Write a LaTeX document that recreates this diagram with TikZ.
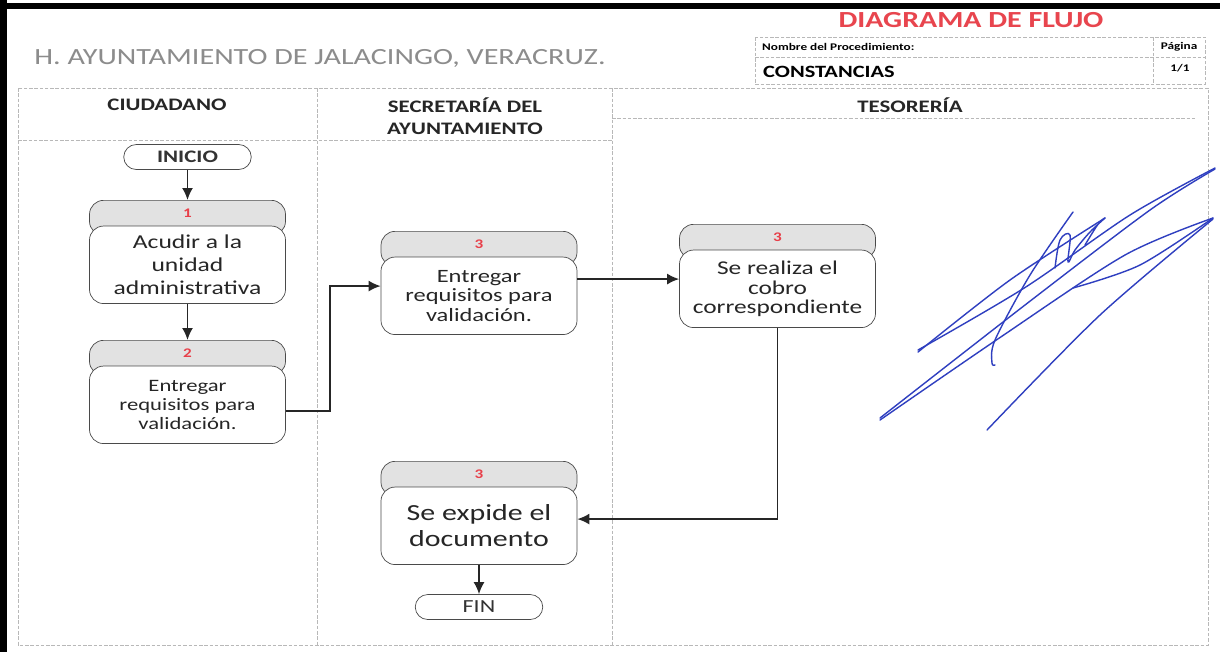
\documentclass[tikz,border=0pt]{standalone}
\usepackage{fontspec}
\setmainfont{Carlito}[FakeStretch=1.3]
\usepackage{tikz}
\usetikzlibrary{positioning, arrows.meta}

\definecolor{boxline}{HTML}{4A4A4A}
\definecolor{laneline}{HTML}{B8B8B8}
\definecolor{titlegray}{HTML}{8C8C8C}
\definecolor{flujored}{HTML}{E8454E}
\definecolor{numred}{HTML}{E8404A}
\definecolor{headfill}{HTML}{E2E2E2}
\definecolor{firma}{HTML}{2F3FC0}

\begin{document}
\begin{tikzpicture}[
      font=\fontsize{10}{12}\selectfont,
      stephead/.style={draw=boxline, fill=headfill, rounded corners=8pt, minimum width=3.92cm, minimum height=0.7cm, anchor=north, text height=0.2cm, text depth=0.2cm, inner sep=1pt, text=numred, font=\fontsize{7.5}{9}\selectfont\bfseries},
      stepbox/.style={draw=boxline, fill=white, rounded corners=8pt, minimum width=3.92cm, minimum height=1.55cm, align=center, inner sep=2pt, text=black!85},
      term/.style={draw=boxline, rounded corners=0.25cm, minimum width=2.55cm, minimum height=0.5cm, inner sep=1pt, text=black!80},
      lane/.style={draw=laneline, line width=0.5pt, dash pattern=on 2pt off 1pt},
      lanehead/.style={align=center, text=black!85, font=\fontsize{10}{12}\selectfont\bfseries},
      arr/.style={-{Latex[length=2.4mm, width=2.2mm]}, line width=1pt, black!85},
      firmatrazo/.style={firma, line width=0.8pt, line cap=round, line join=round}
    ]
    \useasboundingbox (0,0) rectangle (24.4,-13.04);
    \fill[white] (0,0) rectangle (24.4,-13.04);
    %% scan border
    \fill[black] (0,-0.05) rectangle (24.4,-0.18);
    \fill[black] (0,0) rectangle (0.14,-13.04);
    %% title block
    \node[text=titlegray, font=\fontsize{13.2}{15}\selectfont] (ayto) at (6.4,-1.16) {H. AYUNTAMIENTO DE JALACINGO, VERACRUZ.};
    \node[text=flujored, font=\fontsize{13.1}{15}\selectfont\bfseries] (diag) at (19.42,-0.4) {DIAGRAMA DE FLUJO};
    \draw[lane] (15.1,-0.74) rectangle (24.1,-1.68);
    \draw[lane] (15.1,-1.14) -- (24.1,-1.14);
    \draw[lane] (23.06,-0.74) -- (23.06,-1.68);
    \node[anchor=west, font=\fontsize{5.8}{7}\selectfont\bfseries] (nomproc) at (15.12,-0.93) {Nombre del Procedimiento:};
    \node[font=\fontsize{5.8}{7}\selectfont\bfseries] (pag) at (23.58,-0.93) {Página};
    \node[anchor=west, font=\fontsize{9.8}{12}\selectfont\bfseries] (proc) at (15.14,-1.43) {CONSTANCIAS};
    \node[font=\fontsize{5.8}{7}\selectfont\bfseries] (numpag) at (23.6,-1.36) {1/1};
    %% lanes
    \draw[lane] (0.36,-1.76) rectangle (24.16,-12.9);
    \draw[lane] (6.34,-1.76) -- (6.34,-12.9);
    \draw[lane] (12.24,-1.76) -- (12.24,-12.9);
    \draw[lane] (0.36,-2.8) -- (12.24,-2.8);
    \draw[lane] (12.24,-2.36) -- (23.94,-2.36);
    \node[lanehead] (ciud) at (3.34,-2.1) {CIUDADANO};
    \node[lanehead, font=\fontsize{10}{12.2}\selectfont\bfseries] (secr) at (9.3,-2.32) {SECRETARÍA DEL\\AYUNTAMIENTO};
    \node[lanehead] (teso) at (18.2,-2.1) {TESORERÍA};
    %% ciudadano
    \node[term, font=\fontsize{10}{12}\selectfont\bfseries] (inicio) at (3.75,-3.14) {INICIO};
    \node[stephead] (p1h) at (3.75,-4.0) {1};
    \node[stepbox, below=-0.2cm of p1h, font=\fontsize{11.2}{13}\selectfont] (p1) {Acudir a la\\unidad\\administrativa};
    \node[stephead] (p2h) at (3.75,-6.8) {2};
    \node[stepbox, below=-0.2cm of p2h, font=\fontsize{9.9}{10.9}\selectfont] (p2) {Entregar\\requisitos para\\validación.};
    %% secretaria
    \node[stephead] (p3ah) at (9.58,-4.62) {3};
    \node[stepbox, below=-0.2cm of p3ah, font=\fontsize{10.7}{11}\selectfont] (p3a) {Entregar\\requisitos para\\validación.};
    \node[stephead] (p3ch) at (9.58,-9.22) {3};
    \node[stepbox, below=-0.2cm of p3ch, font=\fontsize{13.1}{14.7}\selectfont] (p3c) {Se expide el\\documento};
    \node[term, font=\fontsize{10.5}{12}\selectfont] (fin) at (9.58,-12.14) {FIN};
    %% tesoreria
    \node[stephead] (p3bh) at (15.55,-4.48) {3};
    \node[stepbox, below=-0.2cm of p3bh, font=\fontsize{11.1}{11.3}\selectfont] (p3b) {Se realiza el\\cobro\\correspondiente};
    %% flow
    \draw[arr] (inicio) -- (p1h);
    \draw[arr] (p1) -- (p2h);
    \draw[arr] ([yshift=-0.125cm]p2.east) -- ++(0.89,0) |- ([yshift=0.195cm]p3a.west);
    \draw[arr] ([yshift=0.335cm]p3a.east) -- ([yshift=0.195cm]p3b.west);
    \draw[arr] (p3b.south) |- ([yshift=0.135cm]p3c.east);
    \draw[arr] (p3c) -- (fin);
    %% firma
    \draw[firmatrazo] plot[smooth] coordinates {(17.6,-8.36) (20.5,-6.1) (23.0,-4.2) (24.3,-3.38)};
    \draw[firmatrazo] plot[smooth] coordinates {(18.36,-7.0) (20.5,-5.75) (22.6,-4.3) (24.3,-3.36)};
    \draw[firmatrazo] plot[smooth] coordinates {(17.6,-8.4) (20.0,-6.75) (22.5,-5.1) (24.26,-4.36)};
    \draw[firmatrazo] plot[smooth] coordinates {(24.26,-4.36) (22.8,-5.3) (21.46,-5.76)};
    \draw[firmatrazo] plot[smooth] coordinates {(24.26,-4.38) (22.0,-6.3) (19.74,-8.6)};
    \draw[firmatrazo] plot[smooth] coordinates {(18.36,-7.04) (20.2,-5.6) (22.1,-4.36)};
    \draw[firmatrazo] plot[smooth] coordinates {(21.46,-4.24) (20.6,-5.5) (19.9,-6.8) (19.84,-7.26) (19.9,-7.3)};
    \draw[firmatrazo] plot[smooth, tension=0.6] coordinates {(21.1,-5.36) (21.2,-4.8) (21.4,-4.7) (21.36,-5.24) (21.5,-5.0) (21.8,-4.64) (22.1,-4.36) (21.95,-4.5) (21.7,-4.9)};
  \end{tikzpicture}
\end{document}
